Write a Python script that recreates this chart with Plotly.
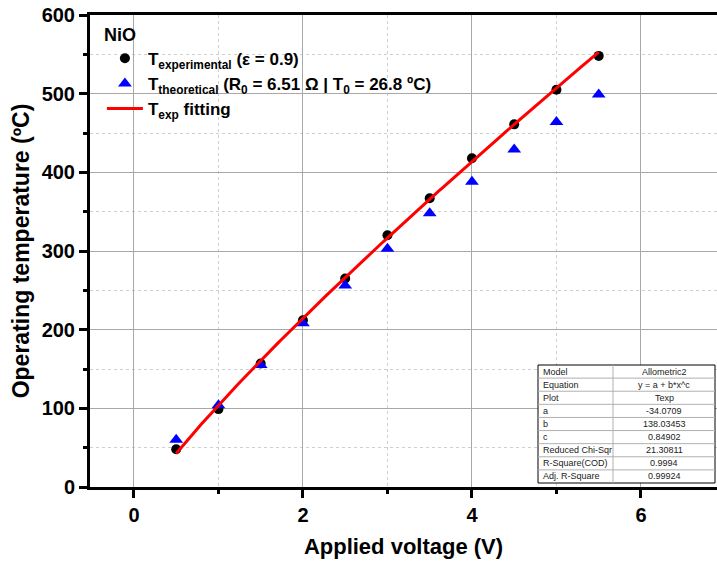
import numpy as np
import plotly.graph_objects as go

# Applied voltage steps (V)
voltage = [0.5, 1.0, 1.5, 2.0, 2.5, 3.0, 3.5, 4.0, 4.5, 5.0, 5.5]
# Measured operating temperature (°C)
t_experimental = [48, 99, 157, 212, 265, 320, 367, 418, 461, 505, 548]
# Theoretical operating temperature (°C)
t_theoretical = [60, 104, 155, 208, 256, 303, 348, 388, 429, 464, 499]

# Allometric2 fit parameters: y = a + b*x^c
fit_a = -34.0709
fit_b = 138.03453
fit_c = 0.84902

table_labels = ["Model", "Equation", "Plot", "a", "b", "c",
                "Reduced Chi-Sqr", "R-Square(COD)", "Adj. R-Square"]
table_values = ["Allometric2", "y = a + b*x^c", "Texp", "-34.0709", "138.03453",
                "0.84902", "21.30811", "0.9994", "0.99924"]

FONT = "Liberation Sans, Arial, sans-serif"

x_fit = np.linspace(min(voltage), max(voltage), 200)
y_fit = fit_a + fit_b * x_fit ** fit_c

fig = go.Figure()
fig.add_trace(go.Scatter(
    x=voltage, y=t_experimental, mode="markers",
    marker=dict(symbol="circle", size=10, color="black"),
    name="<b>T<sub>experimental</sub> (ε = 0.9)</b>"))
fig.add_trace(go.Scatter(
    x=voltage, y=t_theoretical, mode="markers",
    marker=dict(symbol="triangle-up", size=12, color="#0000ff"),
    name="<b>T<sub>theoretical</sub> (R<sub>0</sub> = 6.51 Ω | T<sub>0</sub> = 26.8 ºC)</b>"))
fig.add_trace(go.Scatter(
    x=x_fit, y=y_fit, mode="lines",
    line=dict(color="#ff0000", width=3),
    name="<b>T<sub>exp</sub> fitting</b>"))

axis_common = dict(
    showline=True, linecolor="black", linewidth=3,
    ticks="outside", ticklen=8, tickwidth=3, tickcolor="black",
    showgrid=True, gridcolor="#a8a8a8", gridwidth=1,
    zeroline=False,
    tickfont=dict(family=FONT, size=20, color="black", weight="bold"),
    minor=dict(ticklen=4, tickwidth=3, tickcolor="black", ticks="outside",
               showgrid=True, gridcolor="#cfcfcf", griddash="dot", gridwidth=1),
)

fig.update_xaxes(
    **axis_common, range=[-0.52, 6.9], tickvals=[0, 2, 4, 6], mirror=True,
    title=dict(text="<b>Applied voltage (V)</b>", standoff=14,
               font=dict(family=FONT, size=22, color="black")),
)
fig.update_yaxes(
    **axis_common, range=[0, 600], tickvals=[0, 100, 200, 300, 400, 500, 600],
    title=dict(text="<b>Operating temperature (ºC)</b>", standoff=6,
               font=dict(family=FONT, size=23, color="black")),
)
fig.update_xaxes(minor_tickvals=[1, 3, 5])
fig.update_yaxes(minor_tickvals=[50, 150, 250, 350, 450, 550])

# Fit summary table drawn in the lower-right corner
L, R, MID = 538, 715, 613
TOP, BOT = 365, 483
W_PLOT, H_PLOT = 627, 472
ML, MT = 90, 15


def px(xp):
    return (xp - ML) / W_PLOT


def py(yp):
    return 1 - (yp - MT) / H_PLOT


shapes = [dict(type="rect", xref="paper", yref="paper",
               x0=px(L), x1=px(R), y0=py(BOT), y1=py(TOP),
               fillcolor="white", line=dict(color="black", width=1), layer="above")]
row_h = (BOT - TOP) / len(table_labels)
annotations = []
for i, (lab, val) in enumerate(zip(table_labels, table_values)):
    y_top = TOP + i * row_h
    if i > 0:
        shapes.append(dict(type="line", xref="paper", yref="paper",
                           x0=px(L), x1=px(R), y0=py(y_top), y1=py(y_top),
                           line=dict(color="#b0b0b0", width=1), layer="above"))
    yc = py(y_top + row_h / 2)
    annotations.append(dict(xref="paper", yref="paper", x=px(L + 3), y=yc,
                            text=lab, showarrow=False, xanchor="left", yanchor="middle",
                            font=dict(family=FONT, size=9, color="#222")))
    annotations.append(dict(xref="paper", yref="paper", x=px((MID + R) / 2), y=yc,
                            text=val, showarrow=False, xanchor="center", yanchor="middle",
                            font=dict(family=FONT, size=9, color="#222")))
shapes.append(dict(type="line", xref="paper", yref="paper",
                   x0=px(MID), x1=px(MID), y0=py(BOT), y1=py(TOP),
                   line=dict(color="#b0b0b0", width=1), layer="above"))

fig.update_layout(
    width=717, height=561,
    margin=dict(l=ML, r=0, t=MT, b=561 - MT - H_PLOT),
    paper_bgcolor="white", plot_bgcolor="white",
    font=dict(family=FONT, color="black"),
    showlegend=True,
    legend=dict(
        x=0.019, y=0.995, xanchor="left", yanchor="top",
        bgcolor="rgba(0,0,0,0)", borderwidth=0,
        title=dict(text="<b>NiO</b>", font=dict(family=FONT, size=18, color="black")),
        font=dict(family=FONT, size=17, color="black"),
        itemwidth=36,
    ),
    shapes=shapes, annotations=annotations,
)

fig.write_html("out.html")
